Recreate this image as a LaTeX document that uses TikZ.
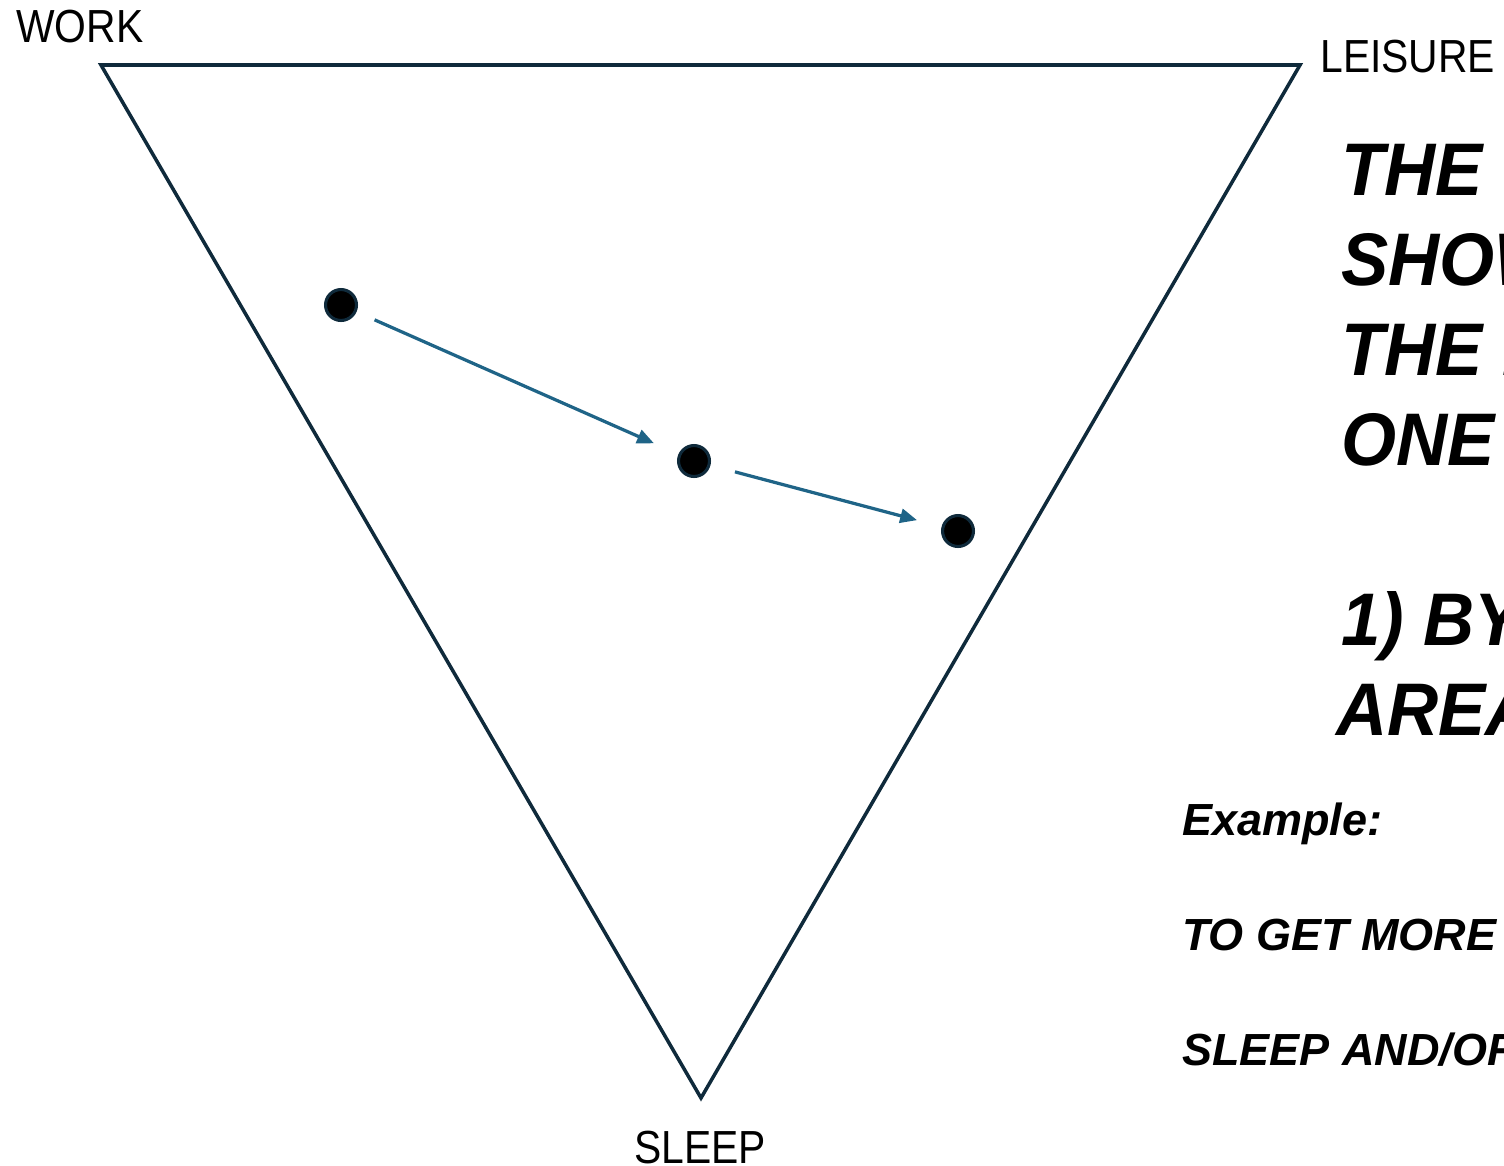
\documentclass[tikz,border=0pt]{standalone}
\usepackage{fontspec}
\setmainfont{Liberation Sans}
\newfontfamily\cornerfont[FakeStretch=0.88]{Liberation Sans}
\newfontfamily\notefont[FakeStretch=0.95]{Liberation Sans}
\usetikzlibrary{arrows.meta}

\definecolor{edgenavy}{HTML}{0F2A3B}
\definecolor{arrowblue}{HTML}{1F6487}

\tikzset{
  stage/.style={circle, fill=black, draw=edgenavy, line width=2.2pt,
    minimum size=22pt, inner sep=0pt},
  shiftarrow/.style={draw=arrowblue, line width=2.3pt,
    -{Triangle[length=12pt,width=10pt]}, shorten <=14pt, shorten >=19pt},
  corner/.style={font=\cornerfont\fontsize{33}{40}\selectfont, anchor=base west, inner sep=0pt},
  bigline/.style={font=\notefont\fontsize{53}{64}\selectfont\bfseries\itshape,
    anchor=base west, inner sep=0pt},
  smallline/.style={font=\fontsize{32}{40}\selectfont\bfseries\itshape,
    anchor=base west, inner sep=0pt},
}

\begin{document}
\begin{tikzpicture}[x=0.025cm, y=-0.025cm]
    \useasboundingbox (0,0) rectangle (1504,1165);
    \clip (0,0) rectangle (1504,1165);

    % the triangle
    \draw[edgenavy, line width=2.5pt, line join=miter]
        (101,65) coordinate (work) -- (1300,65) coordinate (leisure)
        -- (701,1098) coordinate (sleep) -- cycle;
    \node[corner] (worklabel) at (16,42) {WORK};
    \node[corner] (leisurelabel) at (1320,72) {LEISURE};
    \node[corner] (sleeplabel) at (634,1163) {SLEEP};

    % moving points
    \node[stage] (p1) at (341,305) {};
    \node[stage] (p2) at (694,461) {};
    \node[stage] (p3) at (958,531) {};
    \draw[shiftarrow] (p1) -- (p2);
    \draw[shiftarrow, shorten <=18pt, shorten >=18pt] (p2) -- (p3);

    % text on the right
    \node[bigline] (l1) at (1341,195) {THE T};
    \node[bigline] (l2) at (1341,285) {SHOW};
    \node[bigline] (l3) at (1341,375) {THE I};
    \node[bigline] (l4) at (1341,465) {ONE};
    \node[bigline] (l5) at (1341,645) {1) BY};
    \node[bigline] (l6) at (1336,735) {AREA};
    \node[smallline] (ex) at (1182,835) {Example:};
    \node[smallline] (ex1) at (1182,950) {TO GET MORE L};
    \node[smallline] (ex2) at (1182,1065) {SLEEP AND/OR};
\end{tikzpicture}
\end{document}
